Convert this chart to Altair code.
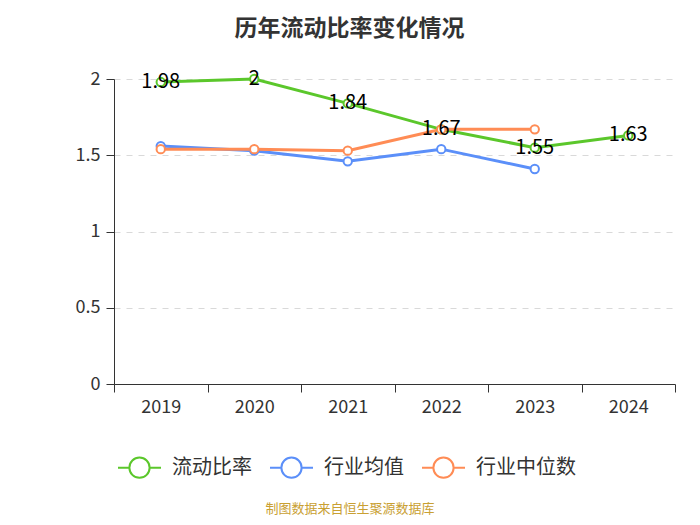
import altair as alt
import pandas as pd

years = ["2019", "2020", "2021", "2022", "2023", "2024"]
series_names = ["流动比率", "行业均值", "行业中位数"]
current_ratio = [1.98, 2.00, 1.84, 1.67, 1.55, 1.63]
industry_mean = [1.56, 1.53, 1.46, 1.54, 1.41]
industry_median = [1.54, 1.54, 1.53, 1.67, 1.67]
colors = ["#5bc72b", "#5b8ff9", "#ff8c55"]
y_ticks = [0, 0.5, 1, 1.5, 2]
title_text = "历年流动比率变化情况"
source_text = "制图数据来自恒生聚源数据库"

rows = []
for name, vals in zip(series_names, [current_ratio, industry_mean, industry_median]):
    for i, v in enumerate(vals):
        rows.append({"year": years[i], "series": name, "value": v})
df = pd.DataFrame(rows)
df_label = df[df["series"] == series_names[0]].copy()
df_label["label"] = df_label["value"].map(lambda v: f"{v:g}")

FONT = "Noto Sans CJK SC"
W, H = 561, 305

legend_path = "M-1,0L-0.47,0M0.47,0L1,0M-0.47,0A0.47,0.47 0 1,1 0.47,0A0.47,0.47 0 1,1 -0.47,0"

x_enc = alt.X("year:N", sort=years, title=None,
              scale=alt.Scale(type="band", domain=years, paddingInner=0, paddingOuter=0),
              bandPosition=0.5,
              axis=alt.Axis(labelAngle=0, tickBand="extent", labelFontSize=18, labelColor="#333",
                            labelFont=FONT, domainColor="#333", tickColor="#333", tickSize=8,
                            labelPadding=6, domainWidth=1, grid=False))
y_enc = alt.Y("value:Q", title=None,
              scale=alt.Scale(domain=[0, 2], nice=False, zero=True),
              axis=alt.Axis(values=y_ticks, labelExpr="toString(datum.value)", labelFontSize=18,
                            labelColor="#333", labelFont=FONT, domainColor="#333", tickColor="#333",
                            tickSize=8, labelPadding=6, grid=True, gridColor="#d9d9d9",
                            gridDash=[6, 6], gridWidth=1))
color_scale = alt.Scale(domain=series_names, range=colors)

base = alt.Chart(df)

lines = base.mark_line(strokeWidth=3).encode(
    x=x_enc, y=y_enc,
    color=alt.Color("series:N", scale=color_scale, sort=series_names,
                    legend=alt.Legend(title=None, orient="none", legendX=3, legendY=366,
                                      direction="horizontal", symbolType=legend_path,
                                      symbolSize=1849, symbolStrokeWidth=2,
                                      symbolFillColor="white", labelFontSize=20,
                                      labelFont=FONT, labelColor="#333", labelOffset=10,
                                      columnPadding=14, padding=0)),
    detail="series:N",
)

points = base.mark_point(filled=True, fill="white", size=70, strokeWidth=2, opacity=1).encode(
    x=x_enc, y=y_enc,
    stroke=alt.Stroke("series:N", scale=color_scale, legend=None),
)

labels = alt.Chart(df_label).mark_text(fontSize=20, font=FONT, color="#000",
                                       baseline="middle", align="center").encode(
    x=x_enc, y=y_enc, text="label:N")

source = alt.Chart(pd.DataFrame({"t": [source_text]})).mark_text(
    fontSize=13, font=FONT, color="#c9a032", align="center", baseline="middle").encode(
    x=alt.value(236), y=alt.value(430), text="t:N")

chart = alt.layer(lines, points, labels, source).properties(
    width=W, height=H,
    title=alt.TitleParams(title_text, fontSize=23, fontWeight="bold", color="#333", font=FONT,
                          anchor="middle", dx=-45, offset=17, baseline="middle"),
    autosize=alt.AutoSizeParams(type="none"),
    padding={"left": 106, "top": 71, "right": 17, "bottom": 133},
    background="white",
).configure_view(stroke=None)

chart.save("out.html", embed_options={"renderer": "svg", "actions": False})
